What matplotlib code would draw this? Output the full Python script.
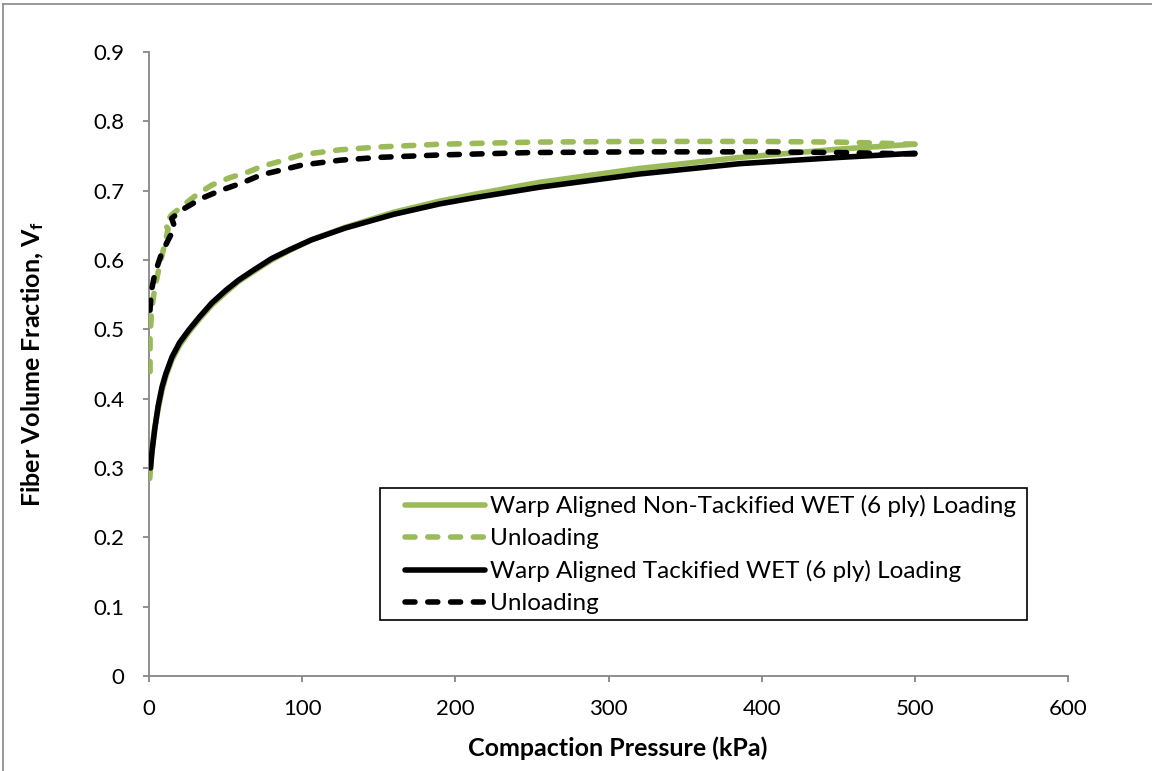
import matplotlib
matplotlib.use("Agg")
import matplotlib.pyplot as plt
from matplotlib.lines import Line2D
from matplotlib.patches import Rectangle

# Compaction pressure (kPa) and fiber volume fraction for each curve
p_load_nontack = [0.5, 1.5, 3.5, 6, 8.5, 11, 15, 20, 26, 33, 41, 50, 58.5, 68, 80,
                  92, 106, 128, 160, 190, 213, 255, 320, 386, 451, 500]
vf_load_nontack = [0.285, 0.315, 0.355, 0.385, 0.412, 0.432, 0.456, 0.477, 0.496,
                   0.515, 0.535, 0.553, 0.569, 0.583, 0.600, 0.614, 0.629, 0.647,
                   0.669, 0.685, 0.695, 0.712, 0.732, 0.748, 0.760, 0.767]

p_unload_nontack = [500, 470, 450, 400, 320, 250, 190, 150, 125, 100, 85, 73.5,
                    64.8, 51.8, 41, 32.2, 21.3, 14.8, 10.0, 12.5, 10.4, 7.2, 3.9,
                    1.7, 0.7, 0.7]
vf_unload_nontack = [0.767, 0.769, 0.770, 0.771, 0.771, 0.770, 0.767, 0.763, 0.759,
                     0.752, 0.742, 0.735, 0.727, 0.718, 0.708, 0.696, 0.677, 0.665,
                     0.652, 0.645, 0.624, 0.595, 0.561, 0.528, 0.489, 0.432]

p_load_tack = [1, 2, 4, 6, 8.5, 11, 15, 20, 26, 33, 41, 50, 58.5, 68, 80, 92, 106,
               128, 160, 190, 213, 255, 320, 386, 451, 500]
vf_load_tack = [0.300, 0.325, 0.360, 0.390, 0.417, 0.436, 0.460, 0.481, 0.499,
                0.518, 0.538, 0.556, 0.571, 0.585, 0.602, 0.615, 0.629, 0.646,
                0.666, 0.681, 0.690, 0.705, 0.724, 0.739, 0.748, 0.754]

p_unload_tack = [500, 450, 400, 320, 250, 190, 150, 125, 100, 85, 73.5, 60.5, 47.5,
                 34.4, 21.3, 14.8, 17, 13.7, 8.3, 3.9, 1.5, 0.7, 0.5]
vf_unload_tack = [0.753, 0.755, 0.756, 0.756, 0.755, 0.7515, 0.748, 0.744, 0.737,
                  0.729, 0.723, 0.711, 0.701, 0.689, 0.672, 0.660, 0.646, 0.634,
                  0.610, 0.581, 0.555, 0.530, 0.515]

labels = ["Warp Aligned Non-Tackified WET (6 ply) Loading", "Unloading",
          "Warp Aligned Tackified WET (6 ply) Loading", "Unloading"]
x_ticks = [0, 100, 200, 300, 400, 500, 600]
y_ticks = [0, 0.1, 0.2, 0.3, 0.4, 0.5, 0.6, 0.7, 0.8, 0.9]
y_ticklabels = ["0", "0.1", "0.2", "0.3", "0.4", "0.5", "0.6", "0.7", "0.8", "0.9"]

GREEN = "#9BBB59"
BLACK = "#000000"
GRAY = "#868686"

plt.rcParams["font.family"] = ["Lato", "DejaVu Sans"]
plt.rcParams["mathtext.fontset"] = "custom"
plt.rcParams["mathtext.rm"] = "Lato"
plt.rcParams["mathtext.bf"] = "Lato:bold"

W, H = 1152, 771
X0, X1, Y0, Y1 = 149, 1068, 676, 52  # plot area in pixels

fig = plt.figure(figsize=(W / 100, H / 100), dpi=100)
ax = fig.add_axes([X0 / W, 1 - Y0 / H, (X1 - X0) / W, (Y0 - Y1) / H])


def ax_x(px):
    return (px - X0) / (X1 - X0)


def ax_y(py):
    return (Y0 - py) / (Y0 - Y1)


lw = 4.0
dash = (0, (1.8, 2.3))
ax.plot(p_load_nontack, vf_load_nontack, color=GREEN, lw=lw, solid_capstyle="round",
        solid_joinstyle="round", label=labels[0], zorder=3)
ax.plot(p_unload_nontack, vf_unload_nontack, color=GREEN, lw=lw, ls=dash,
        dash_capstyle="round", dash_joinstyle="round", label=labels[1], zorder=3)
ax.plot(p_load_tack, vf_load_tack, color=BLACK, lw=lw, solid_capstyle="round",
        solid_joinstyle="round", label=labels[2], zorder=4)
ax.plot(p_unload_tack, vf_unload_tack, color=BLACK, lw=lw, ls=dash,
        dash_capstyle="round", dash_joinstyle="round", label=labels[3], zorder=4)

ax.set_xlim(0, 600)
ax.set_ylim(0, 0.9)
ax.set_xticks(x_ticks)
ax.set_xticklabels([str(v) for v in x_ticks])
ax.set_yticks(y_ticks)
ax.set_yticklabels(y_ticklabels)

for side in ("top", "right"):
    ax.spines[side].set_visible(False)
for side in ("left", "bottom"):
    ax.spines[side].set_color(GRAY)
    ax.spines[side].set_linewidth(1.3)
ax.tick_params(axis="both", direction="out", length=4.5, width=1.3, color=GRAY,
               labelsize=16, labelcolor="black")
ax.tick_params(axis="y", pad=13)
ax.tick_params(axis="x", pad=12)

ax.set_xlabel("Compaction Pressure (kPa)", fontsize=18, fontweight="bold")
ax.xaxis.set_label_coords(ax_x(618), ax_y(736))
ax.set_ylabel(r"Fiber Volume Fraction, $\mathbf{V_f}$", fontsize=18,
              fontweight="bold")
ax.yaxis.set_label_coords(ax_x(46), 0.5)

# Legend box with entries inside
ax.add_patch(Rectangle((ax_x(380), ax_y(620)), ax_x(1027) - ax_x(380),
                       ax_y(488) - ax_y(620), transform=ax.transAxes,
                       facecolor="white", edgecolor="black", lw=1.2, zorder=5,
                       clip_on=False))
leg = ax.legend(loc="upper left", bbox_to_anchor=(ax_x(405), ax_y(495)),
                fontsize=17.5, frameon=False, handlelength=3.3, handletextpad=0.2,
                borderpad=0, labelspacing=0.45, borderaxespad=0)
leg.set_zorder(6)

# Outer chart frame (left and top edges)
fig.add_artist(Line2D([3 / W, 3 / W], [0, 1 - 4 / H], color=GRAY, lw=1.2,
                      transform=fig.transFigure))
fig.add_artist(Line2D([3 / W, 1], [1 - 4 / H, 1 - 4 / H], color=GRAY, lw=1.2,
                      transform=fig.transFigure))

fig.savefig("out.png", dpi=100)
